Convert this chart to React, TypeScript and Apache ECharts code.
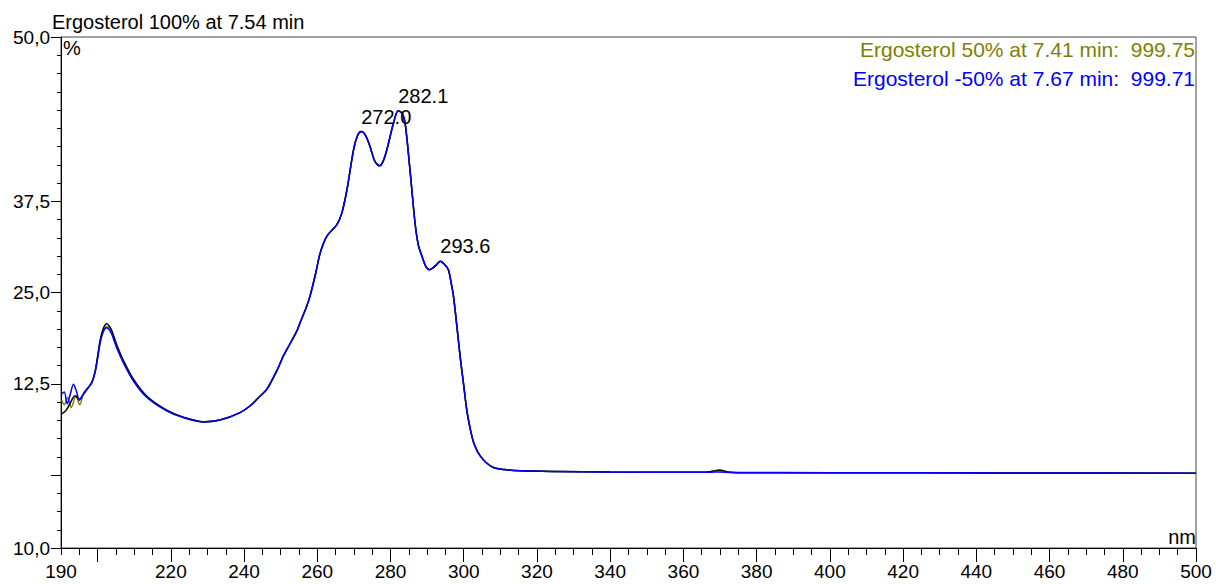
import React, { useEffect, useRef } from "react";
import * as echarts from "echarts";

// Y axis is drawn in tick-step units (0 = bottom tick, 28 = top tick); labels as printed.
const yLabelValues = [0, 9, 14, 19, 28];
const yLabelTexts = ["10,0", "12,5", "25,0", "37,5", "50,0"];
const yMajorTicks = [0, 4, 9, 14, 19, 28];
const xLabelValues = [190, 220, 240, 260, 280, 300, 320, 340, 360, 380, 400, 420, 440, 460, 480, 500];
const xMajorTicks = [200, 220, 240, 260, 280, 300, 320, 340, 360, 380, 400, 420, 440, 460, 480, 500];

const peakNm = [272.0, 282.1, 293.6];

const titleText = "Ergosterol 100% at 7.54 min";
const legendOlive = "Ergosterol 50% at 7.41 min:  999.75";
const legendBlue = "Ergosterol -50% at 7.67 min:  999.71";

const blueData: number[][] = [
  [190.2, 8.45], [190.9, 8.55], [191.7, 7.9], [192.5, 8.4], [193.4, 8.97], [194.2, 8.6], [195.0, 8.1],
  [196.1, 8.42], [197.3, 8.75], [198.4, 9.06], [199.3, 9.62], [200.0, 10.4], [200.7, 11.26], [201.6, 11.88],
  [202.5, 12.07], [203.2, 11.95], [203.9, 11.7], [205.2, 10.99], [207.0, 10.17], [209.8, 9.15], [213.4, 8.26],
  [218.9, 7.51], [223.4, 7.15], [228.9, 6.91], [233.4, 7.01], [238.9, 7.42], [242.0, 7.85], [244.4, 8.33],
  [246.2, 8.69], [248.9, 9.69], [250.7, 10.51], [251.7, 10.88], [254.4, 11.88], [255.3, 12.34], [257.1, 13.25],
  [258.0, 13.79], [259.5, 15.0], [260.8, 16.17], [262.6, 17.08], [265.3, 17.71], [266.7, 18.35], [268.1, 19.63],
  [269.9, 21.82], [271.0, 22.6], [272.0, 22.82], [273.2, 22.6], [274.4, 22.0], [275.7, 21.2], [277.0, 20.94],
  [278.0, 21.2], [279.0, 21.82], [280.8, 23.27], [282.1, 23.96], [283.2, 23.8], [284.0, 23.27], [285.4, 20.54],
  [286.7, 17.81], [287.6, 16.6], [288.6, 15.98], [289.6, 15.45], [290.6, 15.25], [291.6, 15.35], [292.6, 15.53],
  [293.6, 15.71], [294.7, 15.55], [295.8, 15.25], [296.5, 14.6], [297.2, 13.79], [298.1, 12.2], [299.0, 10.51],
  [300.0, 8.9], [300.8, 7.6], [301.7, 6.6], [302.7, 5.78], [303.6, 5.35], [304.5, 5.05], [306.0, 4.7],
  [308.1, 4.41], [311.0, 4.3], [315.4, 4.23], [325, 4.19], [340, 4.16], [360, 4.15], [367, 4.15], [370, 4.17],
  [373, 4.14], [400, 4.13], [450, 4.11], [500, 4.1],
];

const blackData: number[][] = [
  [190.2, 7.35], [191.2, 7.5], [192.3, 7.85], [193.8, 8.33], [195.0, 8.15],
  [196.1, 8.42], [197.3, 8.75], [198.4, 9.06], [199.3, 9.65], [200.0, 10.5], [200.7, 11.4], [201.6, 12.05],
  [202.5, 12.29], [203.2, 12.15], [203.9, 11.9], [205.2, 11.15], [207.0, 10.3], [209.8, 9.25], [213.4, 8.33],
  [218.9, 7.55], [223.4, 7.17], [228.9, 6.92], [233.4, 7.01], [238.9, 7.42], [242.0, 7.85], [244.4, 8.33],
  [246.2, 8.69], [248.9, 9.69], [250.7, 10.51], [251.7, 10.88], [254.4, 11.88], [255.3, 12.34], [257.1, 13.25],
  [258.0, 13.79], [259.5, 15.0], [260.8, 16.17], [262.6, 17.08], [265.3, 17.71], [266.7, 18.35], [268.1, 19.63],
  [269.9, 21.82], [271.0, 22.6], [272.0, 22.82], [273.2, 22.6], [274.4, 22.0], [275.7, 21.2], [277.0, 20.94],
  [278.0, 21.2], [279.0, 21.82], [280.8, 23.27], [282.1, 23.96], [283.2, 23.8], [284.0, 23.27], [285.4, 20.54],
  [286.7, 17.81], [287.6, 16.6], [288.6, 15.98], [289.6, 15.45], [290.6, 15.25], [291.6, 15.35], [292.6, 15.53],
  [293.6, 15.71], [294.7, 15.55], [295.8, 15.25], [296.5, 14.6], [297.2, 13.79], [298.1, 12.2], [299.0, 10.51],
  [300.0, 8.9], [300.8, 7.6], [301.7, 6.6], [302.7, 5.78], [303.6, 5.35], [304.5, 5.05], [306.0, 4.7],
  [308.1, 4.41], [311.0, 4.3], [315.4, 4.23], [325, 4.19], [340, 4.16], [360, 4.15], [366, 4.15], [369, 4.24],
  [370, 4.26], [372, 4.17], [375, 4.13], [400, 4.13], [450, 4.11], [500, 4.1],
];

const oliveData: number[][] = [
  [190.2, 8.1], [190.9, 7.85], [191.8, 8.25], [192.8, 7.7], [194.1, 8.35], [195.1, 7.85], [196.3, 8.55],
  [197.3, 8.75], [198.4, 9.06], [199.3, 9.62], [200.0, 10.4], [200.7, 11.26], [201.6, 11.9],
  [202.5, 12.12], [203.2, 12.0], [203.9, 11.75], [205.2, 11.02], [207.0, 10.2], [209.8, 9.17], [213.4, 8.28],
  [218.9, 7.52], [223.4, 7.15], [228.9, 6.91], [233.4, 7.01], [238.9, 7.42], [242.0, 7.85], [244.4, 8.33],
  [246.2, 8.69], [248.9, 9.69], [250.7, 10.51], [251.7, 10.88], [254.4, 11.88], [255.3, 12.34], [257.1, 13.25],
  [258.0, 13.79], [259.5, 15.0], [260.8, 16.17], [262.6, 17.08], [265.3, 17.71], [266.7, 18.35], [268.1, 19.63],
  [269.9, 21.82], [271.0, 22.6], [272.0, 22.82], [273.2, 22.6], [274.4, 22.0], [275.7, 21.2], [277.0, 20.94],
  [278.0, 21.2], [279.0, 21.82], [280.8, 23.27], [282.1, 23.96], [283.2, 23.8], [284.0, 23.27], [285.4, 20.54],
  [286.7, 17.81], [287.6, 16.6], [288.6, 15.98], [289.6, 15.45], [290.6, 15.25], [291.6, 15.35], [292.6, 15.53],
  [293.6, 15.71], [294.7, 15.55], [295.8, 15.25], [296.5, 14.6], [297.2, 13.79], [298.1, 12.2], [299.0, 10.51],
  [300.0, 8.9], [300.8, 7.6], [301.7, 6.6], [302.7, 5.78], [303.6, 5.35], [304.5, 5.05], [306.0, 4.7],
  [308.1, 4.41], [311.0, 4.3], [315.4, 4.23], [325, 4.19], [340, 4.16], [360, 4.15], [366, 4.15], [369, 4.25],
  [370, 4.28], [372, 4.17], [375, 4.13], [400, 4.13], [450, 4.11], [500, 4.1],
];

const FONT = "'Liberation Sans', Arial, sans-serif";

export default function App() {
  const ref = useRef<HTMLDivElement>(null);
  useEffect(() => {
    if (!ref.current) return;
    const chart = echarts.init(ref.current, undefined, { renderer: "svg" });
    const axisColor = "#000";
    const peakPoints = peakNm.map((nm) => {
      const p = blueData.find((d) => Math.abs(d[0] - nm) < 1e-6) as number[];
      return { coord: [p[0], p[1]], value: nm };
    });
    chart.setOption({
      animation: false,
      backgroundColor: "#fff",
      textStyle: { fontFamily: FONT },
      grid: {
        left: 61, right: 20, top: 37, bottom: 36,
        show: true, borderColor: "#444", borderWidth: 1, backgroundColor: "transparent",
      },
      xAxis: [
        {
          type: "value", min: 190, max: 500, interval: 5, position: "bottom",
          axisLine: { show: true, onZero: false, lineStyle: { color: axisColor, width: 1 } },
          axisTick: { show: true, length: 7, lineStyle: { color: axisColor } },
          axisLabel: { show: false },
          splitLine: { show: false },
        },
        {
          type: "value", min: 190, max: 500, interval: 5, position: "bottom",
          axisLine: { show: false, onZero: false },
          axisTick: { show: true, length: 14, customValues: xMajorTicks, lineStyle: { color: axisColor } },
          axisLabel: {
            show: true, customValues: xLabelValues, color: "#000", fontSize: 19, fontFamily: FONT, margin: 14,
            formatter: (v: number) => String(v),
          },
          splitLine: { show: false },
        },
      ],
      yAxis: [
        {
          type: "value", min: 0, max: 28, interval: 1, position: "left",
          axisLine: { show: true, onZero: false, lineStyle: { color: axisColor, width: 1 } },
          axisTick: { show: true, length: 4, lineStyle: { color: axisColor } },
          axisLabel: { show: false },
          splitLine: { show: false },
        },
        {
          type: "value", min: 0, max: 28, interval: 1, position: "left",
          axisLine: { show: false, onZero: false },
          axisTick: { show: true, length: 10, customValues: yMajorTicks, lineStyle: { color: axisColor } },
          axisLabel: {
            show: true, customValues: yLabelValues, color: "#000", fontSize: 19, fontFamily: FONT, margin: 11,
            formatter: (v: number) => {
              const i = yLabelValues.indexOf(Math.round(v));
              return i >= 0 ? yLabelTexts[i] : "";
            },
          },
          splitLine: { show: false },
        },
      ],
      series: [
        {
          name: "Ergosterol 50%", type: "line", xAxisIndex: 0, yAxisIndex: 0, data: oliveData,
          showSymbol: false, symbol: "none", smooth: 0.3,
          lineStyle: { color: "#808000", width: 1.5 },
        },
        {
          name: "Ergosterol 100%", type: "line", xAxisIndex: 0, yAxisIndex: 0, data: blackData,
          showSymbol: false, symbol: "none", smooth: 0.3,
          lineStyle: { color: "#000000", width: 1.5 },
        },
        {
          name: "Ergosterol -50%", type: "line", xAxisIndex: 0, yAxisIndex: 0, data: blueData,
          showSymbol: false, symbol: "none", smooth: 0.3,
          lineStyle: { color: "#0000ff", width: 1.5 },
          markPoint: {
            symbol: "circle", symbolSize: 0, silent: true,
            label: {
              show: true, position: "top", distance: 5, align: "left",
              color: "#000", fontSize: 20, fontFamily: FONT,
              formatter: (p: any) => Number(p.value).toFixed(1),
            },
            data: peakPoints,
          },
        },
      ],
      graphic: [
        { type: "text", x: 52, y: 12, style: { text: titleText, fill: "#000", font: `20px ${FONT}`, textAlign: "left", textVerticalAlign: "top" } },
        { type: "text", x: 1195, y: 39, style: { text: legendOlive, fill: "#808000", font: `21px ${FONT}`, textAlign: "right", textVerticalAlign: "top" } },
        { type: "text", x: 1195, y: 67.5, style: { text: legendBlue, fill: "#0000ff", font: `21px ${FONT}`, textAlign: "right", textVerticalAlign: "top" } },
        { type: "text", x: 63, y: 38, style: { text: "%", fill: "#000", font: `20px ${FONT}`, textAlign: "left", textVerticalAlign: "top" } },
        { type: "text", x: 1196, y: 527, style: { text: "nm", fill: "#000", font: `20px ${FONT}`, textAlign: "right", textVerticalAlign: "top" } },
      ],
    });
    return () => chart.dispose();
  }, []);
  return (
    <div
      ref={ref}
      style={{ position: "absolute", left: 0, top: 0, width: 1216, height: 584, background: "#fff" }}
    />
  );
}
